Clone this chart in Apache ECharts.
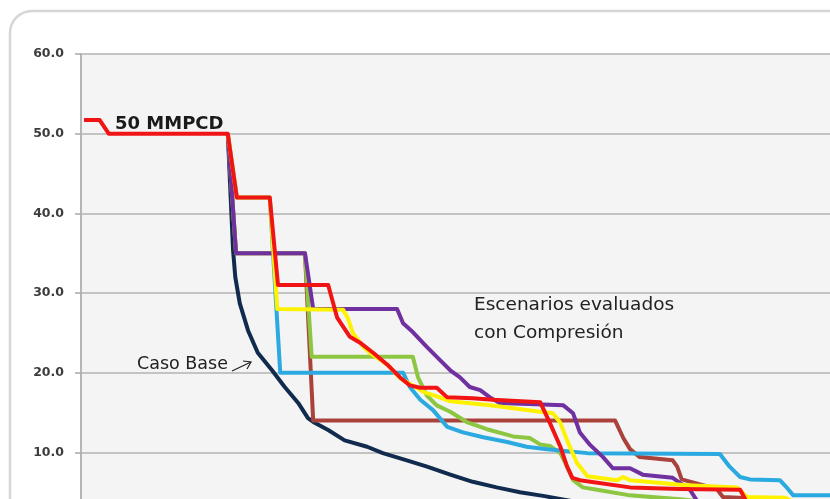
<!DOCTYPE html>
<html>
<head>
<meta charset="utf-8">
<script src="https://cdn.jsdelivr.net/npm/echarts@6/dist/echarts.min.js"></script>
<style>html,body{margin:0;padding:0;background:#fff}#c{width:830px;height:499px}</style>
</head>
<body>
<div id="c"></div>
<script>
// x: relative position along the duration axis (0-100), y: gas rate
var yTicks = [0, 10, 20, 30, 40, 50, 60];

var casoBase = [[19.6,50.0],[20.3,35.4],[20.6,32.0],[21.2,28.7],[22.3,25.3],[23.6,22.5],[25.5,20.3],[27.2,18.2],[29.0,16.2],[30.3,14.3],[31.2,13.7],[33.0,12.8],[35.2,11.5],[38.2,10.7],[40.3,9.9],[43.5,9.0],[46.2,8.2],[49.3,7.2],[52.3,6.3],[55.5,5.6],[58.6,5.0],[61.9,4.5],[66.0,3.8],[76.0,2.8]];

var brown = [[19.6,50.0],[20.7,35.0],[29.9,35.0],[31.0,14.0],[71.3,14.0],[72.4,11.8],[73.3,10.4],[74.6,9.4],[79.0,9.0],[79.6,8.2],[80.2,6.6],[84.9,5.4],[85.7,4.4],[94.7,4.0]];

var green = [[19.6,50.0],[20.7,35.0],[29.9,35.0],[30.8,22.0],[44.3,22.0],[45.0,19.4],[46.2,17.1],[47.5,15.9],[49.3,15.1],[51.5,13.8],[54.2,12.9],[57.7,12.0],[59.9,11.8],[61.3,11.0],[62.6,10.8],[64.0,9.9],[64.9,8.2],[65.7,6.5],[67.0,5.6],[68.9,5.3],[73.3,4.6],[80.0,4.1],[85.3,3.6]];

var lightBlue = [[19.6,50.0],[20.8,42.0],[25.2,42.0],[26.6,20.0],[43.0,20.0],[43.9,18.2],[45.3,16.6],[47.0,15.3],[48.9,13.2],[51.0,12.5],[53.7,11.9],[56.9,11.3],[59.5,10.7],[62.2,10.4],[67.6,9.9],[85.3,9.8],[86.6,8.2],[88.0,6.9],[89.3,6.6],[93.3,6.5],[94.3,5.5],[95.1,4.6],[100,4.6]];

var purple = [[19.6,50.0],[20.7,35.0],[29.9,35.0],[31.0,28.0],[42.2,28.0],[43.0,26.2],[44.3,25.1],[46.2,23.2],[47.9,21.6],[49.3,20.3],[50.6,19.4],[51.9,18.2],[53.3,17.8],[54.6,16.9],[55.9,16.2],[64.4,15.9],[65.7,14.9],[66.6,12.5],[68.0,10.9],[69.7,9.4],[71.0,8.0],[73.3,8.0],[75.0,7.2],[79.0,6.8],[81.3,5.3],[82.6,3.4]];

var yellow = [[19.6,50.0],[20.8,42.0],[25.2,42.0],[26.2,28.0],[35.0,27.9],[35.6,26.9],[36.3,25.0],[37.7,23.2],[39.0,22.2],[40.9,21.0],[42.6,19.3],[44.3,18.4],[45.7,17.6],[47.9,16.9],[49.3,16.4],[54.6,15.9],[61.3,15.1],[63.0,14.9],[64.0,13.7],[64.9,11.5],[66.2,8.7],[67.6,7.0],[71.6,6.5],[72.4,6.9],[73.3,6.5],[80.4,5.9],[87.6,5.6],[88.9,4.4],[94.0,4.3],[96.0,3.4]];

var red50 = [[0.4,51.7],[2.5,51.7],[3.7,50.0],[19.6,50.0],[20.8,42.0],[25.2,42.0],[26.3,31.0],[33.0,31.0],[34.2,26.9],[35.9,24.5],[37.2,23.8],[39.0,22.5],[40.9,21.0],[42.6,19.4],[43.9,18.4],[45.3,18.1],[47.5,18.1],[48.9,16.9],[52.3,16.8],[55.0,16.6],[61.3,16.3],[62.6,13.7],[64.0,10.7],[64.9,8.2],[65.6,6.8],[66.6,6.5],[73.3,5.6],[80.0,5.4],[88.0,5.3],[89.1,3.4],[96.0,3.1]];

var seriesDefs = [
  {name:'Caso Base', data:casoBase, color:'#112b4e'},
  {name:'Escenario 1', data:brown, color:'#a8423a'},
  {name:'Escenario 2', data:green, color:'#8dc641'},
  {name:'Escenario 3', data:lightBlue, color:'#2ba9e1'},
  {name:'Escenario 4', data:purple, color:'#7030a0'},
  {name:'Escenario 5', data:yellow, color:'#fff200'},
  {name:'50 MMPCD', data:red50, color:'#f01414'}
];

var chart = echarts.init(document.getElementById('c'), null, {renderer:'canvas'});
var FONT = '"DejaVu Sans", sans-serif';
chart.setOption({
  animation:false,
  backgroundColor:'#ffffff',
  graphic:[
    {type:'rect', z:-10, silent:true, shape:{x:10, y:11, width:900, height:600, r:22},
     style:{fill:'#ffffff', stroke:'#d6d6d6', lineWidth:2.5}},
    {type:'text', z:100, style:{text:'50 MMPCD', x:115, y:124, font:'bold 18px '+FONT, fill:'#1a1a1a', textVerticalAlign:'middle'}},
    {type:'text', z:100, style:{text:'Escenarios evaluados', x:474, y:305.5, font:'18.5px '+FONT, fill:'#222222', textVerticalAlign:'middle'}},
    {type:'text', z:100, style:{text:'con Compresión', x:474, y:333.5, font:'18.5px '+FONT, fill:'#222222', textVerticalAlign:'middle'}},
    {type:'text', z:100, style:{text:'Caso Base', x:137, y:364.5, font:'17.5px '+FONT, fill:'#222222', textVerticalAlign:'middle'}},
    {type:'polyline', z:100, shape:{points:[[232,371],[251,362]]}, style:{stroke:'#222', lineWidth:1.2, fill:null}},
    {type:'polyline', z:100, shape:{points:[[243,361],[251,362],[247,369]]}, style:{stroke:'#222', lineWidth:1.2, fill:null}}
  ],
  grid:{left:81, top:54, width:749, height:478, show:true, backgroundColor:'#f4f4f4', borderWidth:0,
        containLabel:false, outerBoundsMode:'none'},
  xAxis:{type:'value', min:0, max:100, show:false},
  yAxis:{type:'value', min:0, max:60, interval:10,
    axisLine:{show:true, lineStyle:{color:'#b5b5b5', width:2}},
    axisTick:{show:true, length:6, lineStyle:{color:'#a8a8a8', width:1.5}},
    axisLabel:{margin:17, color:'#3c3c3c', fontFamily:FONT, fontWeight:'bold', fontSize:12.5,
      formatter:function(v){return v.toFixed(1);}},
    splitLine:{show:true, lineStyle:{color:'#b3b3b3', width:1.5}}
  },
  series:seriesDefs.map(function(s, i){
    return {type:'line', name:s.name, data:s.data, showSymbol:false, symbol:'none', z:2+i,
      lineStyle:{color:s.color, width:4, join:'round'}, itemStyle:{color:s.color}};
  })
});
</script>
</body>
</html>
